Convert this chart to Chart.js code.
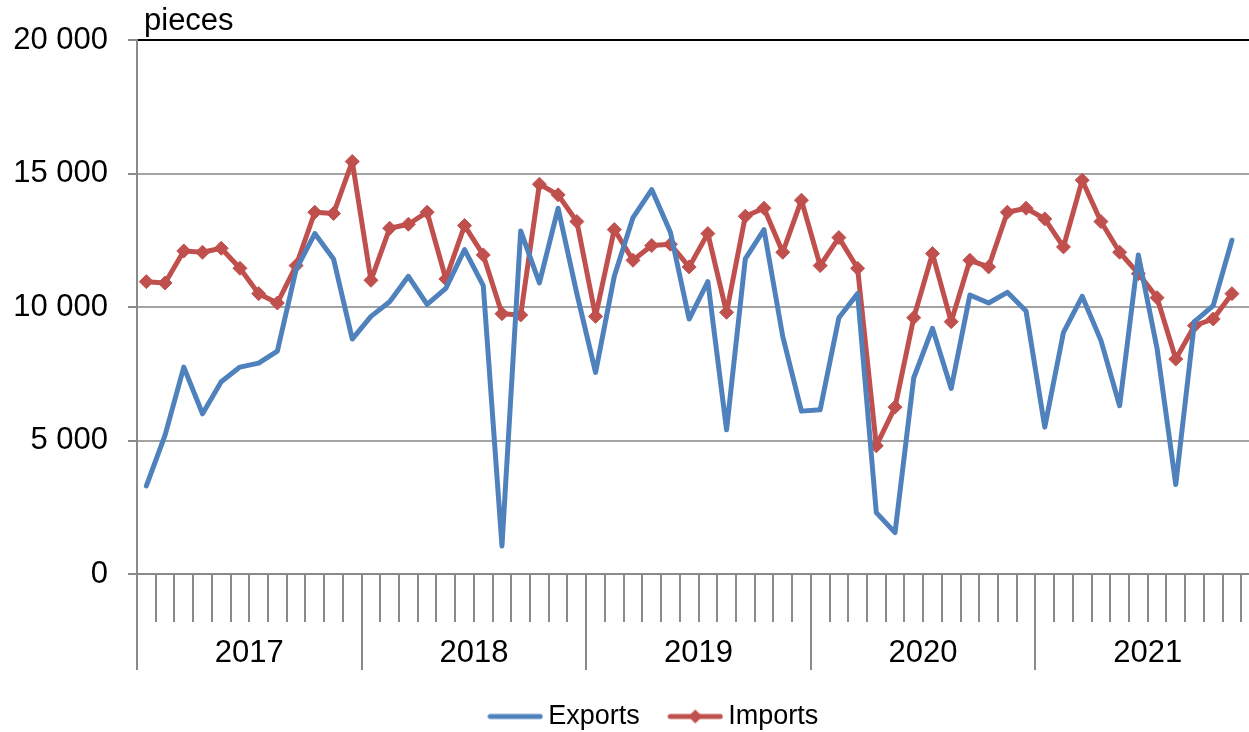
<!DOCTYPE html>
<html>
<head>
<meta charset="utf-8">
<script src="https://cdn.jsdelivr.net/npm/chart.js@4/dist/chart.umd.min.js"></script>
<style>
    html, body { margin: 0; padding: 0; background: #fff; overflow: hidden; width: 1249px; height: 732px; }
    #wrap { position: absolute; left: 0; top: 0; width: 1314px; height: 740px; }
</style>
</head>
<body>
<div id="wrap"><canvas id="chart"></canvas></div>
<script>
const years = ['2017', '2018', '2019', '2020', '2021'];

// one category per month, Jan 2017 .. Dec 2021
const months = [];
for (const y of years) {
    for (let m = 1; m <= 12; m++) months.push(y + '-' + (m < 10 ? '0' + m : m));
}

const exportsData = [
    3300, 5200, 7750, 6000, 7200, 7750, 7900, 8350, 11400, 12750, 11800, 8800,
    9650, 10200, 11150, 10100, 10700, 12150, 10800, 1050, 12850, 10900, 13700, 10500,
    7550, 11150, 13350, 14400, 12800, 9550, 10950, 5400, 11800, 12900, 8900, 6100,
    6150, 9600, 10500, 2300, 1550, 7350, 9200, 6950, 10450, 10150, 10550, 9850,
    5500, 9050, 10400, 8750, 6300, 11950, 8450, 3350, 9450, 10050, 12500
];

const importsData = [
    10950, 10900, 12100, 12050, 12200, 11450, 10500, 10150, 11550, 13550, 13500, 15450,
    11000, 12950, 13100, 13550, 11050, 13050, 11950, 9750, 9700, 14600, 14200, 13200,
    9650, 12900, 11750, 12300, 12350, 11500, 12750, 9800, 13400, 13700, 12050, 14000,
    11550, 12600, 11450, 4800, 6250, 9600, 12000, 9450, 11750, 11500, 13550, 13700,
    13300, 12250, 14750, 13200, 12050, 11250, 10350, 8050, 9300, 9550, 10500
];

const yTicks = [0, 5000, 10000, 15000, 20000];

const BLUE = '#4F81BD';
const RED = '#C0504D';
const GRID = '#a3a3a3';
const TICK = '#8a8a8a';
const FONT = "'Liberation Sans', Arial, sans-serif";

function legendIcon(color, diamond) {
    const c = document.createElement('canvas');
    c.width = 56;
    c.height = 16;
    const g = c.getContext('2d');
    g.strokeStyle = color;
    g.lineWidth = 5;
    g.lineCap = 'round';
    g.beginPath();
    g.moveTo(3, 8);
    g.lineTo(53, 8);
    g.stroke();
    if (diamond) {
        g.fillStyle = color;
        g.beginPath();
        g.moveTo(28, 1);
        g.lineTo(35, 8);
        g.lineTo(28, 15);
        g.lineTo(21, 8);
        g.closePath();
        g.fill();
    }
    return c;
}

const unitLabel = {
    id: 'unitLabel',
    afterDraw(chart) {
        const ctx = chart.ctx;
        ctx.save();
        ctx.font = '31px ' + FONT;
        ctx.fillStyle = '#000';
        ctx.textBaseline = 'alphabetic';
        ctx.fillText('pieces', chart.chartArea.left + 7, 30);
        ctx.restore();
    }
};

function spaced(v) {
    return String(v).replace(/\B(?=(\d{3})+(?!\d))/g, ' ');
}

new Chart(document.getElementById('chart'), {
    type: 'line',
    data: {
        labels: months,
        datasets: [{
            label: 'Exports',
            data: exportsData,
            borderColor: BLUE,
            backgroundColor: BLUE,
            borderWidth: 5,
            pointRadius: 0,
            pointHoverRadius: 0,
            tension: 0,
            borderJoinStyle: 'round',
            borderCapStyle: 'round'
        }, {
            label: 'Imports',
            data: importsData,
            borderColor: RED,
            backgroundColor: RED,
            borderWidth: 5,
            pointStyle: 'rectRot',
            pointRadius: 7,
            pointBorderWidth: 1,
            pointBackgroundColor: RED,
            pointBorderColor: RED,
            tension: 0,
            borderJoinStyle: 'round'
        }]
    },
    options: {
        responsive: true,
        maintainAspectRatio: false,
        animation: false,
        devicePixelRatio: 1,
        layout: { padding: { top: 40, left: 0, right: 0, bottom: 0 } },
        plugins: {
            title: { display: false },
            tooltip: { enabled: false },
            legend: {
                display: true,
                position: 'bottom',
                labels: {
                    color: '#000',
                    font: { family: FONT, size: 27 },
                    usePointStyle: true,
                    pointStyleWidth: 39,
                    padding: 36,
                    generateLabels(chart) {
                        return chart.data.datasets.map((ds, i) => ({
                            text: ds.label,
                            datasetIndex: i,
                            pointStyle: legendIcon(ds.borderColor, i === 1),
                            fillStyle: ds.borderColor,
                            strokeStyle: ds.borderColor,
                            lineWidth: 0,
                            fontColor: '#000',
                            hidden: false
                        }));
                    }
                }
            }
        },
        scales: {
            x: {
                type: 'category',
                position: 'bottom',
                weight: 0,
                offset: true,
                grid: {
                    display: true,
                    offset: true,
                    drawOnChartArea: false,
                    drawTicks: true,
                    tickLength: 48,
                    color: TICK,
                    lineWidth: 2
                },
                border: { display: true, color: TICK, width: 2 },
                ticks: { display: false, autoSkip: false },
                afterFit(s) { s.height = 48; }
            },
            x2: {
                type: 'category',
                position: 'bottom',
                weight: 1,
                labels: years,
                offset: true,
                grid: {
                    display: true,
                    offset: true,
                    drawOnChartArea: false,
                    drawTicks: true,
                    tickLength: 48,
                    color: TICK,
                    lineWidth: 2
                },
                border: { display: false },
                ticks: {
                    display: true,
                    autoSkip: false,
                    maxRotation: 0,
                    padding: -35,
                    color: '#000',
                    font: { family: FONT, size: 31 }
                },
                afterFit(s) { s.height = 45; }
            },
            y: {
                type: 'linear',
                position: 'left',
                min: 0,
                max: 20000,
                afterBuildTicks(s) { s.ticks = yTicks.map(v => ({ value: v })); },
                grid: {
                    color: ctx => (ctx.tick && ctx.tick.value === 20000) ? '#000' : GRID,
                    tickColor: TICK,
                    lineWidth: 2,
                    tickLength: 9
                },
                border: { display: true, color: TICK, width: 2 },
                ticks: {
                    color: '#000',
                    padding: 20,
                    font: { family: FONT, size: 31 },
                    callback: v => spaced(v)
                },
                afterFit(s) { s.width = 137; }
            },
            yr: {
                type: 'linear',
                position: 'right',
                display: true,
                grid: { display: false },
                border: { display: false },
                ticks: { display: false },
                afterFit(s) { s.width = 54; }
            }
        }
    },
    plugins: [unitLabel]
});
</script>
</body>
</html>
